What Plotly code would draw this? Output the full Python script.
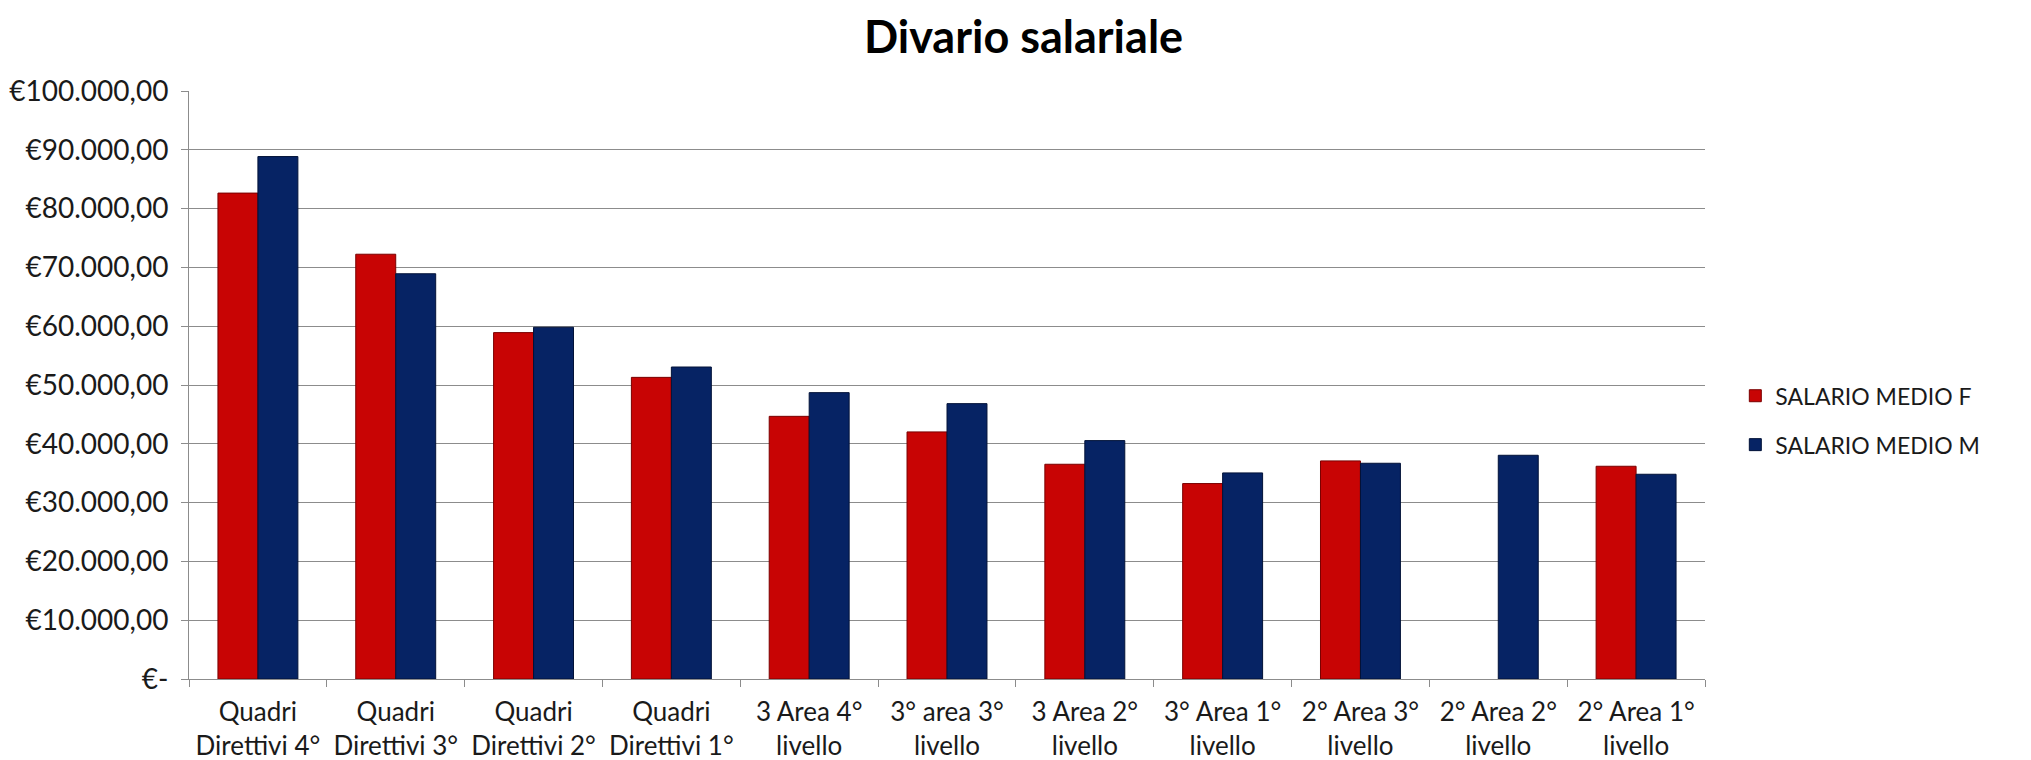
import plotly.graph_objects as go

# categories (x axis), two lines each
categorie = [
    "Quadri<br>Direttivi 4°",
    "Quadri<br>Direttivi 3°",
    "Quadri<br>Direttivi 2°",
    "Quadri<br>Direttivi 1°",
    "3 Area 4°<br>livello",
    "3° area 3°<br>livello",
    "3 Area 2°<br>livello",
    "3° Area 1°<br>livello",
    "2° Area 3°<br>livello",
    "2° Area 2°<br>livello",
    "2° Area 1°<br>livello",
]

# average salaries
salario_f = [82640, 72240, 58910, 51300, 44670, 42020, 36520, 33240, 37090, None, 36180]
salario_m = [88850, 68920, 59820, 53060, 48700, 46830, 40540, 35050, 36690, 38050, 34820]

# y ticks
tick_vals = [0, 10000, 20000, 30000, 40000, 50000, 60000, 70000, 80000, 90000, 100000]
tick_text = ["€-", "€10.000,00", "€20.000,00", "€30.000,00", "€40.000,00", "€50.000,00",
             "€60.000,00", "€70.000,00", "€80.000,00", "€90.000,00", "€100.000,00"]

FONT = "Century Gothic, Lato, sans-serif"

fig = go.Figure()
fig.add_trace(go.Bar(
    x=categorie, y=salario_f, name="SALARIO MEDIO F", legendgroup="f",
    marker=dict(color="#C80404", line=dict(color="#7A0000", width=1)),
))
fig.add_trace(go.Bar(
    x=categorie, y=salario_m, name="SALARIO MEDIO M", legendgroup="m",
    marker=dict(color="#062364", line=dict(color="#021238", width=1)),
))

fig.update_layout(
    width=2031, height=760,
    paper_bgcolor="white", plot_bgcolor="white",
    barmode="group", bargap=0.42, bargroupgap=0.0,
    margin=dict(l=181, r=334, t=83, b=89),
    title=dict(text="<b>Divario salariale</b>", x=0.5, xanchor="center",
               y=0.961, yanchor="middle",
               font=dict(family=FONT, size=45, color="black")),
    font=dict(family=FONT, size=26, color="#1a1a1a"),
    legend=dict(x=1.02, y=0.44, xanchor="left", yanchor="middle",
                font=dict(family=FONT, size=23, color="#1a1a1a"),
                itemwidth=30, tracegroupgap=16),
)

fig.update_yaxes(
    range=[0, 100000], tickvals=tick_vals, ticktext=tick_text,
    showgrid=True, gridcolor="#8c8c8c", gridwidth=1,
    showline=True, linecolor="#8c8c8c", linewidth=1,
    ticks="outside", ticklen=7, tickcolor="#8c8c8c",
    ticklabelstandoff=7, automargin=False,
    tickfont=dict(family=FONT, size=28, color="#1a1a1a"),
    zeroline=False,
)
fig.update_xaxes(
    showline=True, linecolor="#8c8c8c", linewidth=1,
    ticks="outside", ticklen=7, tickcolor="#8c8c8c", tickson="boundaries",
    ticklabelstandoff=10, automargin=False,
    tickfont=dict(family=FONT, size=26, color="#1a1a1a"),
)

fig.write_html("out.html")
